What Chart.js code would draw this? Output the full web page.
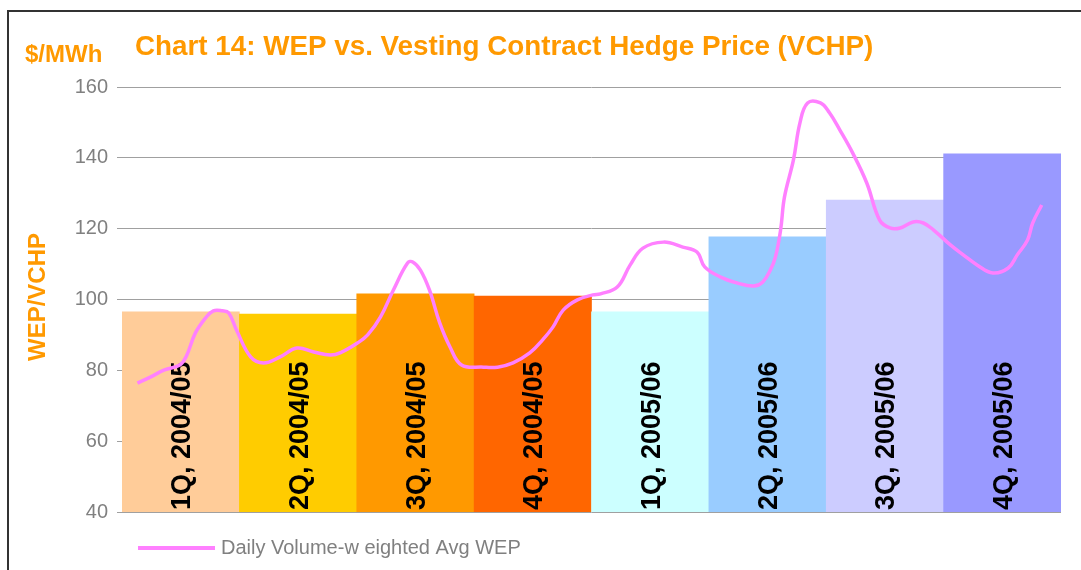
<!DOCTYPE html>
<html>
<head>
<meta charset="utf-8">
<script src="https://cdn.jsdelivr.net/npm/chart.js@4/dist/chart.umd.min.js"></script>
<style>
  html, body { margin: 0; padding: 0; background: #fff; overflow: hidden; }
  #wrap { position: relative; width: 1081px; height: 570px; }
  #frame { position: absolute; left: 7px; top: 10px; width: 1100px; height: 600px;
           border-left: 2px solid #333; border-top: 2px solid #333; }
  canvas { position: absolute; left: 0; top: 0; }
</style>
</head>
<body>
<div id="wrap">
  <div id="frame"></div>
  <canvas id="wepChart" width="1081" height="570"></canvas>
</div>
<script>
const QUARTERS = ['1Q, 2004/05', '2Q, 2004/05', '3Q, 2004/05', '4Q, 2004/05',
                  '1Q, 2005/06', '2Q, 2005/06', '3Q, 2005/06', '4Q, 2005/06']
const VCHP = [96.5, 95.9, 101.6, 101.0, 96.5, 117.7, 128.1, 141.1]
const BAR_COLORS = ['#FFCC99', '#FFCC00', '#FF9900', '#FF6600',
                    '#CCFFFF', '#99CCFF', '#CCCCFF', '#9999FF']

// day number across the two years (0..730) and daily volume-weighted WEP
const WEP_DAY = [12, 22, 33, 45, 50, 57, 65, 71, 78, 83, 89, 100, 110, 123, 136, 149, 162, 170,
  183, 191, 201, 211, 222, 226, 232, 239, 247, 255, 264, 281, 292, 304, 317, 327, 335, 343,
  354, 366, 372, 385, 395, 405, 421, 436, 447, 453, 465, 478, 491, 498, 504, 508, 512, 515,
  522, 527, 533, 543, 550, 558, 568, 579, 589, 597, 605, 615, 623, 631, 644, 654, 665, 677,
  689, 696, 704, 708, 715]
const WEP = [76.4, 78.1, 80.1, 81.5, 84.0, 90.5, 94.8, 96.8, 96.8, 96.2, 91.4, 83.8, 82.1, 83.8,
  86.3, 85.2, 84.3, 85.0, 87.7, 90.0, 95.1, 102.7, 110.3, 110.6, 108.3, 102.7, 93.4, 86.6, 81.5,
  80.9, 80.9, 82.1, 84.9, 88.6, 92.2, 97.0, 99.9, 101.3, 101.6, 103.5, 109.7, 114.5, 116.2, 114.8,
  113.4, 109.2, 106.4, 104.7, 103.8, 104.9, 108.3, 112.0, 119.6, 128.9, 139.4, 149.8, 155.5, 155.5,
  152.7, 147.9, 141.4, 132.9, 122.4, 120.2, 120.2, 121.9, 121.6, 119.6, 115.4, 112.6, 109.7, 107.5,
  108.9, 112.6, 116.8, 121.6, 126.7]

const FONT = "'Liberation Sans', Arial, sans-serif"
const ORANGE = '#FF9900'
const PINK = '#FF80FF'

// title, axis captions, bar captions and legend drawn by hand
const decorPlugin = {
  id: 'decor',
  afterDatasetDraw(chart, args) {
    if (args.index !== 0) return
    const ctx = chart.ctx
    const meta = chart.getDatasetMeta(0)
    const bottom = chart.chartArea.bottom
    ctx.save()
    ctx.fillStyle = '#000'
    ctx.font = 'bold 27px ' + FONT
    ctx.textAlign = 'left'
    ctx.textBaseline = 'middle'
    meta.data.forEach((bar, i) => {
      ctx.save()
      ctx.translate(bar.x + 2, bottom - 2)
      ctx.rotate(-Math.PI / 2)
      ctx.fillText(QUARTERS[i], 0, 0)
      ctx.restore()
    })
    ctx.restore()
  },
  afterDraw(chart) {
    const ctx = chart.ctx
    ctx.save()
    ctx.fillStyle = ORANGE
    ctx.textBaseline = 'alphabetic'
    ctx.textAlign = 'left'
    ctx.font = 'bold 27.8px ' + FONT
    ctx.fillText('Chart 14: WEP vs. Vesting Contract Hedge Price (VCHP)', 135, 55)
    ctx.font = 'bold 24px ' + FONT
    ctx.fillText('$/MWh', 25, 62)
    ctx.save()
    ctx.translate(45, 297)
    ctx.rotate(-Math.PI / 2)
    ctx.textAlign = 'center'
    ctx.fillText('WEP/VCHP', 0, 0)
    ctx.restore()
    // legend
    ctx.fillStyle = PINK
    ctx.fillRect(138, 546, 77, 4)
    ctx.fillStyle = '#808080'
    ctx.font = '20px ' + FONT
    ctx.textBaseline = 'middle'
    ctx.fillText(chart.data.datasets[1].label, 221, 548)
    ctx.restore()
  }
}

const wepData = {
  labels: QUARTERS,
  datasets: [{
    type: 'bar',
    label: 'VCHP',
    data: VCHP,
    backgroundColor: BAR_COLORS,
    borderWidth: 0,
    grouped: false,
    categoryPercentage: 1,
    barPercentage: 1,
    order: 1
  }, {
    type: 'line',
    label: 'Daily Volume-w eighted Avg WEP',
    data: WEP_DAY.map((d, i) => ({ x: d, y: WEP[i] })),
    xAxisID: 'xDays',
    borderColor: PINK,
    backgroundColor: PINK,
    borderWidth: 3.5,
    pointRadius: 0,
    tension: 0.4,
    order: 0
  }]
}

const wepOptions = {
  responsive: false,
  animation: false,
  layout: { padding: { top: 87, right: 20, bottom: 58, left: 0 } },
  datasets: {
    bar: { categoryPercentage: 1, barPercentage: 1 }
  },
  scales: {
    x: { display: false, offset: true },
    xDays: { type: 'linear', display: false, offset: false, min: 0, max: 730 },
    y: {
      min: 40,
      max: 160,
      afterFit: scale => { scale.width = 122 },
      border: { display: false },
      grid: { color: '#a0a0a0', lineWidth: 1, tickLength: 5 },
      ticks: {
        stepSize: 20,
        padding: 9,
        color: '#808080',
        font: { family: FONT, size: 20 }
      }
    }
  },
  plugins: {
    legend: { display: false },
    tooltip: { enabled: false }
  }
}

const wepChart = new Chart(document.getElementById('wepChart'), {
  type: 'bar',
  data: wepData,
  options: wepOptions,
  plugins: [decorPlugin]
})
</script>
</body>
</html>
